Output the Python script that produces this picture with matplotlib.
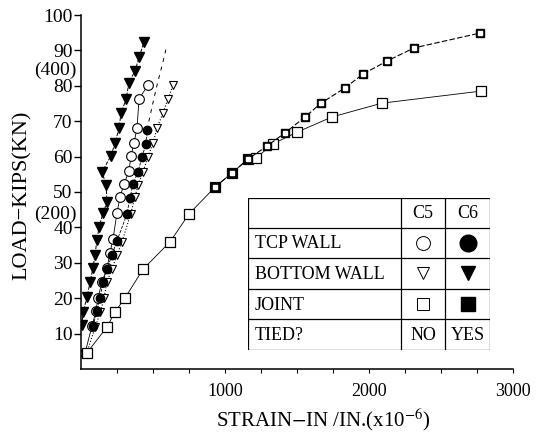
import matplotlib.pyplot as plt
import numpy as np

plt.rcParams['font.family'] = ['Liberation Serif', 'DejaVu Serif']
plt.rcParams['mathtext.fontset'] = 'stix'

# --- data (strain in 1e-6 in/in, load in kips) ---
tcp_c5_x = [28, 76, 104, 118, 146, 181, 201, 222, 250, 271, 299, 333, 347, 368, 389, 403, 465]
tcp_c5_y = [4.5, 12.1, 16.4, 20.1, 24.6, 28.5, 32.8, 36.7, 44.1, 48.6, 52.3, 55.9, 60.2, 63.8, 68.1, 76.3, 80.2]

tcp_c6_x = [83, 111, 132, 153, 181, 215, 250, 319, 340, 361, 396, 424, 451, 458]
tcp_c6_y = [12.1, 16.4, 20.1, 24.6, 28.2, 32.2, 36.2, 43.8, 48.3, 52.3, 55.6, 60.0, 63.5, 67.5]
# dashed continuation of the C6 top wall curve (no markers visible)
tcp_c6_ext_x = [458, 493, 528, 569, 597]
tcp_c6_ext_y = [67.5, 74.0, 80.2, 86.7, 91.5]

bot_c5_x = [40, 100, 135, 160, 180, 215, 250, 285, 345, 375, 396, 431, 465, 500, 528, 569, 604, 639]
bot_c5_y = [4.5, 12.0, 16.0, 20.0, 24.6, 28.2, 32.2, 36.0, 43.8, 48.6, 52.0, 55.7, 60.0, 63.8, 68.1, 72.3, 76.2, 80.2]

bot_c6_x = [7, 14, 42, 63, 83, 97, 111, 125, 153, 181, 174, 146, 208, 236, 264, 278, 313, 333, 375, 403, 438]
bot_c6_y = [12.4, 16.1, 20.3, 24.6, 28.5, 32.2, 36.4, 40.1, 44.0, 47.2, 52.0, 55.7, 60.2, 63.8, 68.0, 72.3, 76.2, 80.9, 84.2, 88.0, 92.4]

joint_low_x = [40, 181, 236, 306, 431, 618, 750, 931, 1049, 1160]
joint_low_y = [4.5, 11.9, 16.1, 20.1, 28.2, 35.9, 43.8, 51.4, 55.4, 59.3]

joint_c5_x = [1215, 1333, 1500, 1743, 2090, 2778]
joint_c5_y = [59.6, 63.6, 66.9, 71.2, 75.1, 78.5]

joint_c6_x = [1292, 1417, 1556, 1667, 1833, 1958, 2125, 2313, 2771]
joint_c6_y = [63.0, 66.7, 71.2, 75.1, 79.4, 83.3, 87.0, 90.7, 94.9]

y_ticks = [10, 20, 30, 40, 50, 60, 70, 80, 90, 100]
kn_labels = {'(400)': 84.5, '(200)': 43.8}
x_major = [1000, 2000, 3000]

W, H = 548, 440
fig = plt.figure(figsize=(W / 100, H / 100), dpi=100)
ax = fig.add_axes([81 / W, 1 - 369 / H, (513 - 81) / W, (369 - 15) / H])

k = 'black'
# C5 series: open markers, thin solid / dotted lines
ax.plot(tcp_c5_x, tcp_c5_y, '-', color=k, lw=0.6, marker='o', ms=7, mfc='white', mec=k, mew=0.8)
ax.plot(bot_c5_x, bot_c5_y, ':', color=k, lw=0.8, marker='v', ms=6, mfc='white', mec=k, mew=0.8)
ax.plot(joint_low_x + joint_c5_x, joint_low_y + joint_c5_y, '-', color=k, lw=0.6,
        marker='s', ms=6.5, mfc='white', mec=k, mew=0.9)
# C6 series: filled markers, dashed lines
ax.plot(tcp_c6_ext_x, tcp_c6_ext_y, ls=(0, (4, 5)), color=k, lw=0.7)
ax.plot(tcp_c6_x, tcp_c6_y, '--', color=k, lw=0.6, marker='o', ms=6, mfc=k, mec=k)
ax.plot(bot_c6_x, bot_c6_y, '--', color=k, lw=0.7, marker='v', ms=6.5, mfc=k, mec=k)
jc6_x = joint_low_x[-3:] + joint_c6_x
jc6_y = joint_low_y[-3:] + joint_c6_y
ax.plot(jc6_x, jc6_y, ls=(0, (5, 2)), color=k, lw=0.8, marker='s', ms=5.5, mfc=k, mec=k)
# the scanned filled squares show a small light centre
ax.plot(jc6_x, jc6_y, 's', ms=2.5, color='white', mec='white')

ax.set_xlim(0, 3000)
ax.set_ylim(0, 100)
for s in ['top', 'right']:
    ax.spines[s].set_visible(False)
for s in ['left', 'bottom']:
    ax.spines[s].set_linewidth(1.1)
ax.set_yticks(y_ticks)
ax.set_yticklabels([str(v) for v in y_ticks], fontsize=14)
ax.set_xticks(x_major)
ax.set_xticklabels([str(v) for v in x_major], fontsize=13)
ax.set_xticks(np.arange(250, 3000, 250), minor=True)
ax.tick_params(axis='y', direction='out', length=5, width=1, pad=1)
ax.tick_params(axis='x', which='both', direction='out', length=3, width=0.8, pad=7)
for lab, v in kn_labels.items():
    ax.text(-0.01, v, lab, transform=ax.get_yaxis_transform(), ha='right', va='center', fontsize=14)

fig.text(22 / W, 1 - 195 / H, 'LOAD\u2212KIPS(KN)', rotation=90, ha='center', va='center', fontsize=16)
fig.text(323 / W, 1 - 420 / H, r'STRAIN$-$IN /IN.(x10$^{-6}$)', ha='center', va='center', fontsize=15)

# --- key table drawn in pixel space of its own axes ---
tx = fig.add_axes([248 / W, 1 - 350 / H, (490 - 248) / W, (350 - 198) / H])
tx.set_xlim(0, 242)
tx.set_ylim(152, 0)
tx.axis('off')
rows = [0, 30, 60, 91, 121, 152]
cols = [0, 153, 197, 242]
for r in rows:
    tx.plot([0, 242], [r, r], color=k, lw=0.9)
for c in cols:
    tx.plot([c, c], [0, 152], color=k, lw=0.9)
row_names = ['', 'TCP WALL', 'BOTTOM WALL', 'JOINT', 'TIED?']
c5_marks = [None, 'o', 'v', 's', None]
c6_marks = [None, 'o', 'v', 's', None]
cx5, cx6 = (cols[1] + cols[2]) / 2, (cols[2] + cols[3]) / 2
for i, name in enumerate(row_names):
    ym = (rows[i] + rows[i + 1]) / 2
    tx.text(7, ym + 1, name, ha='left', va='center', fontsize=13)
    if c5_marks[i]:
        tx.plot(cx5, ym, c5_marks[i], ms=10 if c5_marks[i] == 'o' else 9, mfc='white', mec=k, mew=0.7)
        tx.plot(cx6, ym, c6_marks[i], ms=12 if c6_marks[i] == 'o' else 10, mfc=k, mec=k)
tx.text(cx5, (rows[0] + rows[1]) / 2 + 1, 'C5', ha='center', va='center', fontsize=13)
tx.text(cx6, (rows[0] + rows[1]) / 2 + 1, 'C6', ha='center', va='center', fontsize=13)
tx.text(cx5, (rows[4] + rows[5]) / 2 + 1, 'NO', ha='center', va='center', fontsize=13)
tx.text(cx6, (rows[4] + rows[5]) / 2 + 1, 'YES', ha='center', va='center', fontsize=13)

fig.savefig('out.png', dpi=100)
